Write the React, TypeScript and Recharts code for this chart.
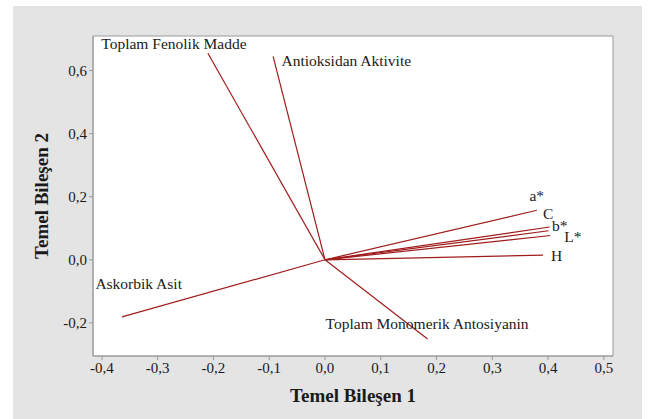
import { ScatterChart, Scatter, XAxis, YAxis, CartesianGrid, ReferenceArea } from "recharts"

// PCA loadings
const variables = [
  "Toplam Fenolik Madde",
  "Antioksidan Aktivite",
  "a*",
  "C",
  "b*",
  "L*",
  "H",
  "Askorbik Asit",
  "Toplam Monomerik Antosiyanin",
]
const pc1 = [-0.21, -0.093, 0.38, 0.403, 0.401, 0.404, 0.391, -0.364, 0.184]
const pc2 = [0.655, 0.645, 0.157, 0.104, 0.092, 0.077, 0.015, -0.181, -0.251]

const xTicks = [-0.4, -0.3, -0.2, -0.1, 0, 0.1, 0.2, 0.3, 0.4, 0.5]
const yTicks = [-0.2, 0, 0.2, 0.4, 0.6]

// where each label sits relative to the vector tip (px)
const labelOffsets: Record<string, [number, number]> = {
  "Toplam Fenolik Madde": [-106.6, -10],
  "Antioksidan Aktivite": [8.4, 4],
  "a*": [-7.4, -15],
  C: [-6.6, -13.4],
  "b*": [3.4, -5.7],
  "L*": [14, 1.4],
  H: [8, 0],
  "Askorbik Asit": [-26.6, -33],
  "Toplam Monomerik Antosiyanin": [-102, -15.7],
}

const FONT = "Liberation Serif, Times New Roman, serif"
const LINE = "#a01c1c"
const TEXT = "#1a1a1a"

const fmt = (v: number) => v.toFixed(1).replace(".", ",")

const vectors = variables.map((name, i) => ({
  name,
  data: [
    { x: 0, y: 0 },
    { x: pc1[i], y: pc2[i] },
  ],
}))

const tips = variables.map((name, i) => ({ name, x: pc1[i], y: pc2[i] }))

const NoDot = () => <g />

const TipLabel = (props: any) => {
  const { cx, cy, payload } = props
  const [dx, dy] = labelOffsets[payload.name] || [0, 0]
  return (
    <text
      x={cx + dx}
      y={cy + dy}
      dominantBaseline="central"
      style={{ fontFamily: FONT, fontSize: 15.5, fill: TEXT }}
    >
      {payload.name}
    </text>
  )
}

const XTitle = (props: any) => {
  const { x, y, width } = props.viewBox
  return (
    <text
      x={x + width / 2}
      y={y + 46}
      textAnchor="middle"
      style={{ fontFamily: FONT, fontSize: 19, fontWeight: "bold", fill: TEXT }}
    >
      Temel Bileşen 1
    </text>
  )
}

const YTitle = (props: any) => {
  const { x, y, height } = props.viewBox
  const cx = x + 8.7
  const cy = y + height / 2
  return (
    <text
      x={cx}
      y={cy}
      transform={`rotate(-90 ${cx} ${cy})`}
      textAnchor="middle"
      dominantBaseline="central"
      style={{ fontFamily: FONT, fontSize: 19, fontWeight: "bold", fill: TEXT }}
    >
      Temel Bileşen 2
    </text>
  )
}

export default function App() {
  const tick = { fontSize: 15, fill: TEXT, fontFamily: FONT }
  return (
    <div style={{ position: "absolute", left: 0, top: 0, width: 649, height: 419, background: "#fff", fontFamily: FONT }}>
      <div style={{ position: "absolute", left: 13, top: 6, width: 629, height: 413, background: "#e4e4e4" }}>
        <ScatterChart width={629} height={413} margin={{ top: 30, right: 29, left: 20, bottom: 13 }}>
          <CartesianGrid fill="#fff" horizontal={false} vertical={false} />
          <XAxis
            type="number"
            dataKey="x"
            domain={[-0.416, 0.5165]}
            ticks={xTicks}
            tickFormatter={fmt}
            allowDataOverflow
            height={50}
            tickSize={4}
            tick={tick}
            stroke="#9a9a9a"
            label={<XTitle />}
          />
          <YAxis
            type="number"
            dataKey="y"
            domain={[-0.305, 0.7095]}
            ticks={yTicks}
            tickFormatter={fmt}
            allowDataOverflow
            width={60}
            tickSize={4}
            tick={tick}
            stroke="#9a9a9a"
            label={<YTitle />}
          />
          <ReferenceArea
            x1={-0.416}
            x2={0.5165}
            y1={-0.305}
            y2={0.7095}
            fill="none"
            stroke="#9a9a9a"
            strokeWidth={1}
            ifOverflow="visible"
          />
          {vectors.map((v) => (
            <Scatter
              key={v.name}
              data={v.data}
              line={{ stroke: LINE, strokeWidth: 1.2 }}
              shape={<NoDot />}
              isAnimationActive={false}
            />
          ))}
          <Scatter data={tips} shape={<TipLabel />} isAnimationActive={false} />
        </ScatterChart>
      </div>
    </div>
  )
}
